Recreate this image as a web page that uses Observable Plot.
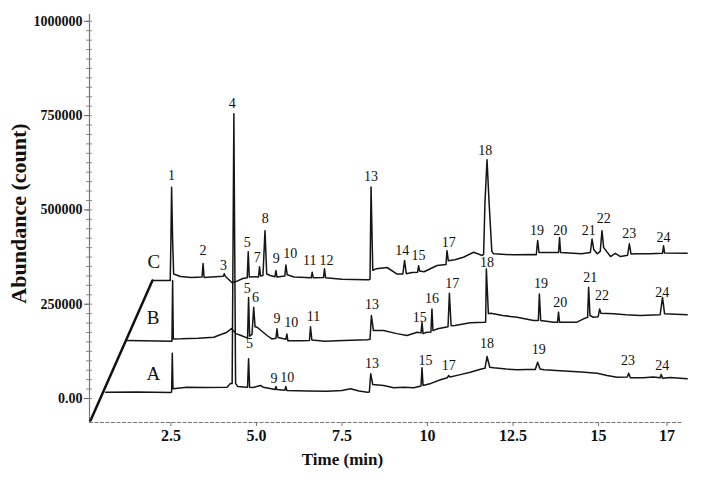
<!DOCTYPE html>
<html>
<head>
<meta charset="utf-8">
<script src="https://cdn.jsdelivr.net/npm/d3@7"></script>
<script src="https://cdn.jsdelivr.net/npm/@observablehq/plot@0.6"></script>
<style>
  html, body { margin: 0; padding: 0; background: #fff; }
  #chart svg { display: block; }
</style>
</head>
<body>
<div id="chart"></div>
<script>
// ---- axis ticks ----
const xTicks = [2.5, 5, 7.5, 10, 12.5, 15, 17];
const xTickLabels = ["2.5", "5.0", "7.5", "10", "12.5", "15", "17"];
const yTicks = [0, 250000, 500000, 750000, 1000000];
const yTickLabels = ["0.00", "250000", "500000", "750000", "1000000"];

// ---- chromatogram traces: [time (min), abundance (count)] ----
const traceA = [
  [0.59, 16700], [1.5, 17500], [2.49, 16000],
  [2.52, 17000], [2.54, 120100], [2.56, 26000],
  [2.97, 30000], [3.5, 29000], [4.14, 30000], [4.24, 39800],
  [4.29, 40000], [4.34, 755000], [4.39, 40000],
  [4.45, 32000], [4.72, 30000],
  [4.74, 30000], [4.77, 105200], [4.80, 30000],
  [4.9, 29000], [5.12, 34500], [5.2, 30000],
  [5.55, 24000], [5.57, 31800], [5.60, 24000],
  [5.83, 22000], [5.86, 31800], [5.89, 21000],
  [6.5, 20000], [7.07, 19000], [7.5, 21000], [7.75, 25700], [8.0, 20000], [8.24, 16700],
  [8.30, 17000], [8.34, 65500], [8.40, 37100],
  [8.72, 34500], [9.01, 28400], [9.3, 30000], [9.60, 28400],
  [9.81, 33000], [9.84, 81400], [9.87, 34500],
  [10.1, 40000], [10.38, 49600],
  [10.58, 55000], [10.62, 61000], [10.66, 57000],
  [10.9, 62000], [11.25, 69700], [11.60, 78700],
  [11.68, 80000], [11.74, 111300], [11.82, 83000],
  [11.93, 81400], [12.3, 78000], [12.62, 76100], [12.9, 77000],
  [13.15, 77000], [13.22, 96200], [13.29, 78000],
  [13.40, 76100], [14.0, 73000], [14.5, 70000], [14.96, 67100],
  [15.25, 61000], [15.54, 56500],
  [15.84, 57000], [15.88, 67100], [15.93, 55000],
  [16.3, 54900], [16.6, 57000],
  [16.80, 55000], [16.83, 63600], [16.87, 54000],
  [17.1, 56000], [17.59, 52200]
];

const traceB = [
  [1.22, 153800], [2.53, 151900],
  [2.55, 312800], [2.57, 158000],
  [2.8, 158300], [3.3, 160000], [3.75, 162500], [4.14, 175800],
  [4.27, 185600], [4.40, 172000], [4.55, 167000],
  [4.74, 160000], [4.77, 268000], [4.80, 165000],
  [4.87, 170000], [4.92, 242000], [4.96, 190000],
  [5.02, 189000], [5.31, 167000], [5.45, 158000],
  [5.57, 160000], [5.60, 185000], [5.63, 162000],
  [5.86, 157000], [5.89, 171000], [5.92, 153000],
  [6.3, 153000],
  [6.55, 154000], [6.58, 190000], [6.62, 155000],
  [7.0, 152000], [7.55, 153800], [8.24, 156000],
  [8.32, 157000], [8.36, 220000], [8.42, 180000],
  [8.72, 180300], [9.1, 172000], [9.40, 167000], [9.70, 175800],
  [9.81, 174000], [9.84, 201500], [9.87, 172000],
  [9.98, 175800],
  [10.10, 176000], [10.13, 237000], [10.16, 180000],
  [10.3, 184800],
  [10.60, 190000], [10.64, 279000], [10.69, 193000],
  [10.8, 193500], [11.25, 200700], [11.66, 202300],
  [11.70, 203000], [11.72, 343000], [11.78, 225000],
  [11.85, 226100], [12.2, 220000], [12.62, 215500], [13.10, 206800],
  [13.24, 207000], [13.27, 277000], [13.31, 207000],
  [13.69, 202300],
  [13.80, 202000], [13.83, 229000], [13.86, 202000],
  [14.37, 202300], [14.56, 211300],
  [14.68, 215000], [14.71, 295000], [14.75, 220000],
  [14.85, 215500],
  [14.99, 217000], [15.03, 237000], [15.07, 226000],
  [15.44, 224500], [15.8, 222000], [16.22, 220000],
  [16.80, 222000], [16.87, 268000], [16.93, 224500],
  [17.59, 221900]
];

const traceC = [
  [1.96, 312800], [2.45, 312800],
  [2.48, 313000], [2.50, 420000], [2.52, 560000], [2.55, 420000], [2.58, 330000],
  [2.78, 323400], [3.1, 321000],
  [3.41, 322000], [3.44, 358000], [3.47, 321000],
  [3.8, 323000],
  [4.03, 324000], [4.06, 331000], [4.09, 324000],
  [4.28, 307500], [4.40, 310000], [4.6, 318000],
  [4.73, 320000], [4.76, 389000], [4.79, 322000],
  [4.95, 323000],
  [5.06, 322000], [5.09, 349000], [5.12, 325000],
  [5.19, 326000], [5.25, 445000], [5.30, 330000],
  [5.40, 326000],
  [5.54, 323000], [5.57, 339000], [5.60, 322000],
  [5.83, 325000], [5.86, 354000], [5.90, 328000],
  [6.10, 322000],
  [6.60, 320000], [6.63, 335000], [6.66, 320000],
  [6.96, 321000], [6.99, 344000], [7.02, 320000],
  [7.5, 316000], [8.2, 315000], [8.28, 315000],
  [8.32, 316000], [8.35, 561000], [8.40, 340000],
  [8.5, 343800], [8.82, 347300], [9.11, 330000],
  [9.28, 330000], [9.33, 366000], [9.38, 331000],
  [9.55, 334000],
  [9.71, 335000], [9.74, 352000], [9.77, 338000],
  [9.9, 336000], [10.28, 352600],
  [10.54, 355000], [10.57, 392000], [10.61, 365000],
  [10.8, 368000], [11.05, 374600], [11.35, 387800], [11.60, 379100],
  [11.64, 382000], [11.68, 520000], [11.74, 633000], [11.80, 520000], [11.88, 390000],
  [11.93, 383600], [12.5, 381000], [13.10, 381700],
  [13.18, 381000], [13.22, 419000], [13.26, 387000],
  [13.5, 387000],
  [13.83, 387000], [13.86, 427000], [13.89, 387000],
  [14.5, 384000],
  [14.76, 387000], [14.81, 423000], [14.86, 395000],
  [14.96, 383600],
  [15.05, 390000], [15.10, 445000], [15.15, 400000],
  [15.35, 376400], [15.49, 385000], [15.64, 376400],
  [15.85, 380000], [15.90, 410000], [15.95, 383000],
  [16.1, 383600], [16.5, 384000],
  [16.87, 385000], [16.90, 405000], [16.93, 386000],
  [17.59, 385000]
];

// ---- peak labels: [label, time, abundance at label] ----
const peaksA = [
  ["4", 4.29, 782000], ["5", 4.80, 145000], ["9", 5.51, 52200], ["10", 5.90, 56500],
  ["13", 8.38, 93600], ["15", 9.94, 100700], ["17", 10.62, 87500], ["18", 11.74, 145000],
  ["19", 13.25, 129100], ["23", 15.86, 100700], ["24", 16.86, 87500]
];
const peaksB = [
  ["5", 4.73, 291600], ["6", 4.97, 267800], ["9", 5.60, 211300], ["10", 6.02, 202300],
  ["11", 6.67, 217400], ["13", 8.38, 249200], ["15", 9.77, 215500], ["16", 10.13, 264300],
  ["17", 10.72, 304100], ["18", 11.74, 361300], ["19", 13.32, 304100], ["20", 13.88, 255300],
  ["21", 14.76, 321600], ["22", 15.10, 273100], ["24", 16.86, 281800]
];
const peaksC = [
  ["1", 2.52, 591200], ["2", 3.44, 392300], ["3", 4.04, 352600], ["5", 4.73, 414400],
  ["7", 5.02, 374600], ["8", 5.26, 476400], ["9", 5.58, 370300], ["10", 5.99, 383600],
  ["11", 6.56, 365800], ["12", 7.05, 365800], ["13", 8.35, 588500], ["14", 9.26, 392300],
  ["15", 9.74, 379100], ["17", 10.62, 414400], ["18", 11.69, 657400], ["19", 13.20, 445400],
  ["20", 13.88, 445400], ["21", 14.71, 445400], ["22", 15.15, 476400], ["23", 15.90, 436600],
  ["24", 16.90, 427600]
];

// ---- sample names and the offset (perspective) edge ----
const sampleNames = [["A", 1.99, 65500], ["B", 1.98, 213900], ["C", 2.00, 361300]];
const offsetEdge = [[0.15, -58300], [1.96, 312800]];

const xDomain = [0.12, 17.6];
const xAxisEnd = 17.45;
const yDomain = [-63600, 1018000];
const yMinor = d3.range(0, 1000001, 25000);

const serif = "'Liberation Serif', 'Times New Roman', serif";
const lineOpts = {x: d => d[0], y: d => d[1], stroke: "#151515", strokeWidth: 1.5, curve: "linear"};
const peakText = {x: d => d[1], y: d => d[2], text: d => d[0], fontSize: 14, fontFamily: serif, fill: "#111"};

const chart = Plot.plot({
  width: 709,
  height: 478,
  marginLeft: 89,
  marginRight: 22,
  marginTop: 14,
  marginBottom: 56,
  style: {background: "#fff", fontFamily: serif},
  x: {domain: xDomain},
  y: {domain: yDomain},
  marks: [
    // axis lines
    Plot.ruleX([xDomain[0]], {y1: yDomain[0], y2: yDomain[1], stroke: "#777", strokeWidth: 1.2}),
    Plot.ruleY([yDomain[0]], {x1: xDomain[0], x2: xAxisEnd, stroke: "#777", strokeWidth: 1.2, strokeDasharray: "4,1.5"}),
    Plot.axisY({ticks: yMinor, tickSize: 6, dx: 3, text: null, label: null, stroke: "#888"}),
    Plot.axisY({
      ticks: yTicks, tickFormat: d => yTickLabels[yTicks.indexOf(d)],
      tickSize: 5, tickPadding: 2, label: null,
      fontSize: 14, fontWeight: "bold", fontFamily: serif, stroke: "#666", fill: "#111"
    }),
    Plot.axisX({
      ticks: xTicks, tickFormat: d => xTickLabels[xTicks.indexOf(d)],
      tickSize: 4, tickPadding: 3, label: null,
      fontSize: 16, fontWeight: "bold", fontFamily: serif, stroke: "#777", fill: "#111"
    }),
    // titles
    Plot.text(["Abundance (count)"], {frameAnchor: "left", dx: -71, dy: -5, rotate: -90, text: d => d,
      textAnchor: "middle", lineAnchor: "middle",
      fontSize: 22, fontWeight: "bold", fontFamily: serif, fill: "#111"}),
    Plot.text(["Time (min)"], {frameAnchor: "bottom", dx: -46, dy: 37, text: d => d,
      textAnchor: "middle", lineAnchor: "middle",
      fontSize: 17, fontWeight: "bold", fontFamily: serif, fill: "#111"}),
    // perspective edge
    Plot.line(offsetEdge, {x: d => d[0], y: d => d[1], stroke: "#111", strokeWidth: 2.5}),
    // traces
    Plot.line(traceC, lineOpts),
    Plot.line(traceB, lineOpts),
    Plot.line(traceA, lineOpts),
    // sample names
    Plot.text(sampleNames, {x: d => d[1], y: d => d[2], text: d => d[0], fontSize: 19, fontFamily: serif, fill: "#111"}),
    // peak labels
    Plot.text(peaksC, peakText),
    Plot.text(peaksB, peakText),
    Plot.text(peaksA, peakText)
  ]
});
document.getElementById("chart").appendChild(chart);
</script>
</body>
</html>
